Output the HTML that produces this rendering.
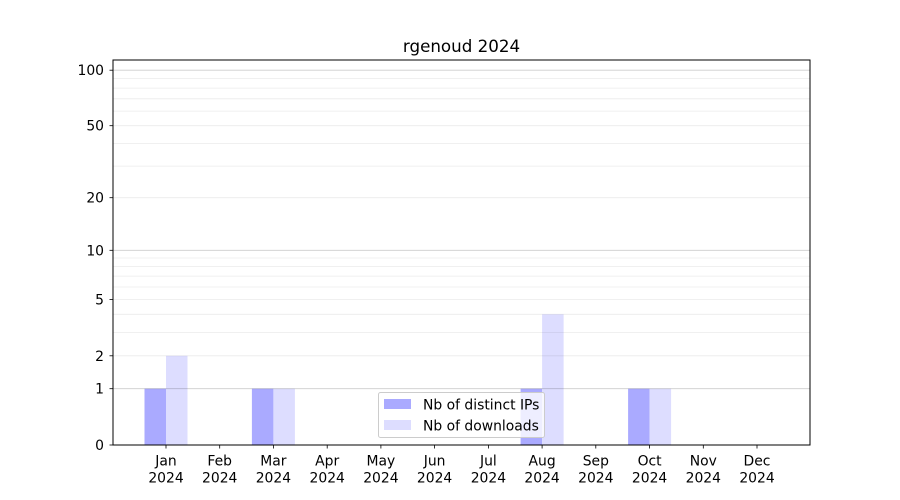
<!DOCTYPE html>
<html><head><meta charset="utf-8"><style>body{margin:0;background:#fff}svg{display:block}text{font-family:"DejaVu Sans","Liberation Sans",sans-serif;fill:#000}</style></head><body>
<svg width="900" height="500" viewBox="0 0 900 500" xmlns="http://www.w3.org/2000/svg">
<rect width="900" height="500" fill="#fff"/>
<g fill="#aaaaff">
<rect x="144.5" y="388.7" width="21.5" height="56.3"/>
<rect x="251.9" y="388.7" width="21.5" height="56.3"/>
<rect x="520.6" y="388.7" width="21.5" height="56.3"/>
<rect x="628.1" y="388.7" width="21.5" height="56.3"/>
</g>
<g fill="#ddddff">
<rect x="166" y="355.8" width="21.5" height="89.2"/>
<rect x="273.4" y="388.7" width="21.5" height="56.3"/>
<rect x="542.1" y="314.3" width="21.5" height="130.7"/>
<rect x="649.6" y="388.7" width="21.5" height="56.3"/>
</g>
<g stroke="#000" stroke-opacity="0.08" stroke-width="0.8">
<line x1="113" x2="810" y1="355.8" y2="355.8"/><line x1="113" x2="810" y1="332.4" y2="332.4"/>
<line x1="113" x2="810" y1="314.3" y2="314.3"/><line x1="113" x2="810" y1="299.5" y2="299.5"/>
<line x1="113" x2="810" y1="287" y2="287"/><line x1="113" x2="810" y1="276.1" y2="276.1"/>
<line x1="113" x2="810" y1="266.6" y2="266.6"/><line x1="113" x2="810" y1="258" y2="258"/>
<line x1="113" x2="810" y1="197.7" y2="197.7"/><line x1="113" x2="810" y1="166.1" y2="166.1"/>
<line x1="113" x2="810" y1="143.4" y2="143.4"/><line x1="113" x2="810" y1="125.7" y2="125.7"/>
<line x1="113" x2="810" y1="111.1" y2="111.1"/><line x1="113" x2="810" y1="98.8" y2="98.8"/>
<line x1="113" x2="810" y1="88.1" y2="88.1"/><line x1="113" x2="810" y1="78.6" y2="78.6"/>
</g>
<g stroke="#000" stroke-opacity="0.2" stroke-width="0.8">
<line x1="113" x2="810" y1="388.7" y2="388.7"/><line x1="113" x2="810" y1="250.3" y2="250.3"/><line x1="113" x2="810" y1="70.2" y2="70.2"/>
</g>
<rect x="113" y="60" width="697" height="385" fill="none" stroke="#000" stroke-width="1"/>
<g stroke="#000" stroke-width="0.8">
<line x1="109.5" x2="113" y1="445" y2="445"/><line x1="109.5" x2="113" y1="388.7" y2="388.7"/>
<line x1="109.5" x2="113" y1="355.8" y2="355.8"/><line x1="109.5" x2="113" y1="299.5" y2="299.5"/>
<line x1="109.5" x2="113" y1="250.3" y2="250.3"/><line x1="109.5" x2="113" y1="197.7" y2="197.7"/>
<line x1="109.5" x2="113" y1="125.7" y2="125.7"/><line x1="109.5" x2="113" y1="70.2" y2="70.2"/>
</g>
<g font-size="13.9" text-anchor="end">
<text x="104" y="450">0</text><text x="104" y="393.7">1</text><text x="104" y="360.8">2</text>
<text x="104" y="304.5">5</text><text x="104" y="255.3">10</text><text x="104" y="202.7">20</text>
<text x="104" y="130.7">50</text><text x="104" y="75.2">100</text>
</g>
<g stroke="#000" stroke-width="0.8">
<line x1="166" x2="166" y1="445" y2="448.5"/><line x1="219.7" x2="219.7" y1="445" y2="448.5"/>
<line x1="273.4" x2="273.4" y1="445" y2="448.5"/><line x1="327.2" x2="327.2" y1="445" y2="448.5"/>
<line x1="380.9" x2="380.9" y1="445" y2="448.5"/><line x1="434.6" x2="434.6" y1="445" y2="448.5"/>
<line x1="488.4" x2="488.4" y1="445" y2="448.5"/><line x1="542.1" x2="542.1" y1="445" y2="448.5"/>
<line x1="595.8" x2="595.8" y1="445" y2="448.5"/><line x1="649.6" x2="649.6" y1="445" y2="448.5"/>
<line x1="703.3" x2="703.3" y1="445" y2="448.5"/><line x1="757" x2="757" y1="445" y2="448.5"/>
</g>
<g font-size="13.9" text-anchor="middle">
<text x="166" y="465.5">Jan</text><text x="166" y="482.5">2024</text>
<text x="219.7" y="465.5">Feb</text><text x="219.7" y="482.5">2024</text>
<text x="273.4" y="465.5">Mar</text><text x="273.4" y="482.5">2024</text>
<text x="327.2" y="465.5">Apr</text><text x="327.2" y="482.5">2024</text>
<text x="380.9" y="465.5">May</text><text x="380.9" y="482.5">2024</text>
<text x="434.6" y="465.5">Jun</text><text x="434.6" y="482.5">2024</text>
<text x="488.4" y="465.5">Jul</text><text x="488.4" y="482.5">2024</text>
<text x="542.1" y="465.5">Aug</text><text x="542.1" y="482.5">2024</text>
<text x="595.8" y="465.5">Sep</text><text x="595.8" y="482.5">2024</text>
<text x="649.6" y="465.5">Oct</text><text x="649.6" y="482.5">2024</text>
<text x="703.3" y="465.5">Nov</text><text x="703.3" y="482.5">2024</text>
<text x="757" y="465.5">Dec</text><text x="757" y="482.5">2024</text>
</g>
<text x="461.5" y="52" font-size="16.7" text-anchor="middle">rgenoud 2024</text>
<rect x="378.5" y="392.5" width="166" height="45" rx="2" fill="#fff" fill-opacity="0.8" stroke="#ccc" stroke-width="1"/>
<rect x="384" y="399" width="27" height="10" fill="#aaaaff"/>
<rect x="384" y="420" width="27" height="10" fill="#ddddff"/>
<g font-size="13.9"><text x="423" y="409.5">Nb of distinct IPs</text><text x="423" y="430.5">Nb of downloads</text></g>
</svg>
</body></html>
